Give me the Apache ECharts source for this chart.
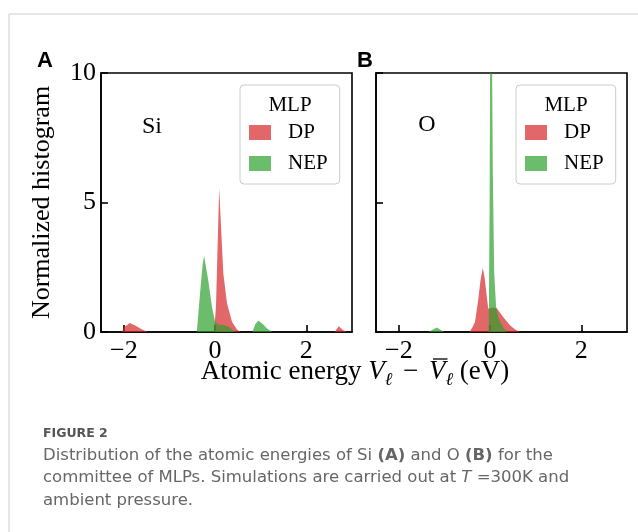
<!DOCTYPE html>
<html>
<head>
<meta charset="utf-8">
<script src="https://cdn.jsdelivr.net/npm/echarts@6/dist/echarts.min.js"></script>
<style>
  html, body { margin: 0; padding: 0; background: #fff; }
  #chart { width: 638px; height: 532px; }
</style>
</head>
<body>
<div id="chart"></div>
<script>
// [energy (eV), normalized histogram]
const xTicks = [-2, 0, 2]

const siDP = [
  [-2.5, 0], [-2.05, 0], [-1.98, 0.2], [-1.87, 0.35], [-1.75, 0.25], [-1.6, 0.1], [-1.47, 0],
  [-0.02, 0], [0.02, 1.0], [0.05, 3.0], [0.09, 5.56], [0.13, 4.07], [0.18, 2.27], [0.26, 1.12],
  [0.37, 0.4], [0.48, 0.1], [0.56, 0],
  [2.62, 0], [2.71, 0.22], [2.8, 0.08], [2.88, 0], [3, 0]
]
const siNEP = [
  [-2.5, 0], [-0.4, 0], [-0.33, 1.49], [-0.27, 2.65], [-0.24, 2.93], [-0.15, 2.0], [-0.07, 0.98],
  [0.0, 0.4], [0.08, 0.28], [0.18, 0.27], [0.3, 0.2], [0.44, 0],
  [0.82, 0], [0.88, 0.3], [0.95, 0.44], [1.05, 0.3], [1.15, 0.12], [1.26, 0], [3, 0]
]
const oDP = [
  [-2.5, 0], [-0.45, 0], [-0.38, 0.2], [-0.33, 0.4], [-0.26, 1.24], [-0.21, 2.0], [-0.16, 2.47],
  [-0.12, 2.1], [-0.08, 1.49], [-0.04, 0.9], [0.0, 0.85], [0.08, 0.95], [0.15, 0.91],
  [0.29, 0.57], [0.44, 0.25], [0.55, 0.1], [0.66, 0], [3, 0]
]
const oNEP = [
  [-2.5, 0], [-1.35, 0], [-1.25, 0.1], [-1.17, 0.17], [-1.08, 0.08], [-1.0, 0],
  [-0.03, 0], [-0.01, 5], [0.0, 10], [0.02, 15], [0.045, 10], [0.06, 6.1], [0.09, 2.3],
  [0.13, 1.0], [0.18, 0.55], [0.28, 0.2], [0.36, 0], [3, 0]
]

const red = 'rgba(214,39,40,0.7)'
const green = 'rgba(44,160,44,0.7)'
const serif = 'Liberation Serif'
const sans = 'DejaVu Sans'

const fmt = v => v < 0 ? '\u2212' + (-v) : String(v)

function xAxis(i) {
  return {
    type: 'value', gridIndex: i, min: -2.5, max: 3,
    axisLine: { onZero: false, lineStyle: { color: '#000', width: 1.6 } },
    axisTick: { inside: true, length: 7, customValues: xTicks, lineStyle: { color: '#000', width: 1.6 } },
    axisLabel: { customValues: xTicks, formatter: fmt, margin: 6, color: '#000', fontFamily: serif, fontSize: 26 },
    splitLine: { show: false }
  }
}
function yAxis(i) {
  return {
    type: 'value', gridIndex: i, min: 0, max: 10, interval: 5,
    name: i === 0 ? 'Normalized histogram' : '',
    nameLocation: 'middle', nameGap: 46,
    nameTextStyle: { color: '#000', fontFamily: serif, fontSize: 26 },
    axisLine: { show: true, onZero: false, lineStyle: { color: '#000', width: 1.6 } },
    axisTick: { show: true, inside: true, length: 7, lineStyle: { color: '#000', width: 1.6 } },
    axisLabel: { show: i === 0, formatter: fmt, margin: 5, color: '#000', fontFamily: serif, fontSize: 26 },
    splitLine: { show: false }
  }
}
function area(name, data, color, i) {
  return {
    name, type: 'line', data, xAxisIndex: i, yAxisIndex: i,
    symbol: 'none', smooth: false, clip: true,
    itemStyle: { color },
    lineStyle: { width: 0 },
    areaStyle: { color, opacity: 1 }
  }
}
function legend(left) {
  return {
    left, top: 85, orient: 'vertical', icon: 'rect',
    itemWidth: 22, itemHeight: 15, itemGap: 10,
    padding: [37, 12, 10, 9],
    backgroundColor: 'rgba(255,255,255,0.8)',
    borderColor: '#ccc', borderWidth: 1, borderRadius: 4,
    textStyle: { color: '#000', fontFamily: serif, fontSize: 21, lineHeight: 21, padding: [0, 0, 0, 12] },
    data: ['DP', 'NEP']
  }
}
function label(text, x, y, style) {
  return { type: 'text', x, y, z: 100, style: Object.assign({ text, fill: '#000' }, style) }
}

// x axis title spans both panels: lay the pieces out with measured widths
const ctx = document.createElement('canvas').getContext('2d')
const big = '27px "Liberation Serif"'
const bigIt = 'italic 27px "Liberation Serif"'
const subIt = 'italic 18px "Liberation Serif"'
const nameParts = [
  { t: 'Atomic energy ', f: big },
  { t: 'V', f: bigIt },
  { t: '\u2113', f: subIt, dy: 8 },
  { t: ' \u2212 ', f: big, pad: 4 },
  { t: 'V', f: bigIt, bar: true },
  { t: '\u2113', f: subIt, dy: 8 },
  { t: ' (eV)', f: big }
]
function nameGraphics(cx, cy) {
  const widths = nameParts.map(p => { ctx.font = p.f; return ctx.measureText(p.t).width + 2 * (p.pad || 0) })
  let x = cx - widths.reduce((a, b) => a + b, 0) / 2
  const out = []
  nameParts.forEach((p, k) => {
    out.push(label(p.t, x + (p.pad || 0), cy + (p.dy || 0), { font: p.f, align: 'left', verticalAlign: 'middle' }))
    if (p.bar) {
      out.push({ type: 'line', z: 100, shape: { x1: x + 4, y1: cy - 13, x2: x + widths[k] + 2, y2: cy - 13 }, style: { stroke: '#000', lineWidth: 1.3 } })
    }
    x += widths[k]
  })
  return out
}

const chart = echarts.init(document.getElementById('chart'), null, { renderer: 'canvas' })
chart.setOption({
  backgroundColor: '#fff',
  animation: false,
  grid: [
    { left: 101, top: 73, width: 251, height: 259, show: true, borderColor: '#000', borderWidth: 1.6 },
    { left: 376, top: 73, width: 251, height: 259, show: true, borderColor: '#000', borderWidth: 1.6 }
  ],
  xAxis: [xAxis(0), xAxis(1)],
  yAxis: [yAxis(0), yAxis(1)],
  legend: [legend(240), legend(516)],
  series: [
    area('DP', siDP, red, 0),
    area('NEP', siNEP, green, 0),
    area('DP', oDP, red, 1),
    area('NEP', oNEP, green, 1)
  ],
  graphic: [
    { type: 'line', shape: { x1: 9, y1: 14, x2: 638, y2: 14 }, style: { stroke: '#ccc', lineWidth: 1 } },
    { type: 'line', shape: { x1: 9, y1: 14, x2: 9, y2: 532 }, style: { stroke: '#ccc', lineWidth: 1 } },
    label('A', 45, 61, { font: 'bold 22px "Liberation Sans"', align: 'center', verticalAlign: 'middle' }),
    label('B', 365, 61, { font: 'bold 22px "Liberation Sans"', align: 'center', verticalAlign: 'middle' }),
    label('Si', 152, 127, { font: '24px "Liberation Serif"', align: 'center', verticalAlign: 'middle' }),
    label('O', 427, 125, { font: '24px "Liberation Serif"', align: 'center', verticalAlign: 'middle' }),
    label('MLP', 290, 105, { font: '21px "Liberation Serif"', align: 'center', verticalAlign: 'middle' }),
    label('MLP', 566, 105, { font: '21px "Liberation Serif"', align: 'center', verticalAlign: 'middle' }),
    ...nameGraphics(355, 372),
    label('FIGURE 2', 43, 434, { font: 'bold 12.5px "DejaVu Sans"', fill: '#555', verticalAlign: 'middle' }),
    label(
      '{n|Distribution of the atomic energies of Si }{b|(A)}{n| and O }{b|(B)}{n| for the}\n' +
      '{n|committee of MLPs. Simulations are carried out at }{i|T}{n| =300K and}\n' +
      '{n|ambient pressure.}', 43, 444, {
        font: '16.5px "DejaVu Sans"', fill: '#666', lineHeight: 22.5, verticalAlign: 'top',
        rich: {
          n: { fontFamily: sans, fontSize: 16.5, color: '#666', lineHeight: 22.5 },
          b: { fontFamily: sans, fontSize: 16.5, color: '#666', fontWeight: 'bold', lineHeight: 22.5 },
          i: { fontFamily: sans, fontSize: 16.5, color: '#666', fontStyle: 'italic', lineHeight: 22.5 }
        }
      })
  ]
})
window.addEventListener('resize', chart.resize)
</script>
</body>
</html>
